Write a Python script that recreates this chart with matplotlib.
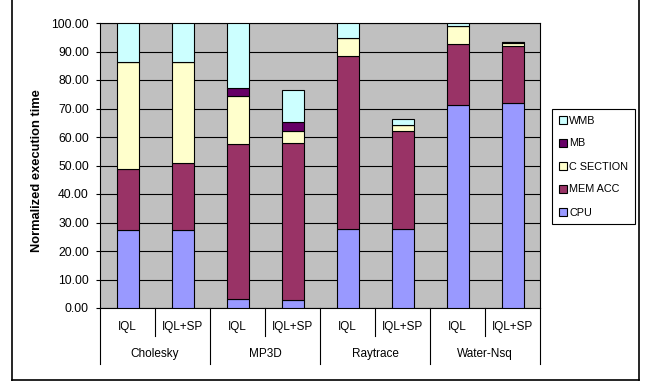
import numpy as np
import matplotlib.pyplot as plt
from matplotlib.patches import Patch

plt.rcParams['font.family'] = ['Liberation Sans', 'DejaVu Sans']

benchmarks = ['Cholesky', 'MP3D', 'Raytrace', 'Water-Nsq']
configs = ['IQL', 'IQL+SP']

# stacked segments, one value per bar (benchmark x config)
cpu = [27.3, 27.3, 3.2, 2.8, 27.7, 27.7, 71.2, 71.8]
mem_acc = [21.5, 23.5, 54.3, 55.0, 60.7, 34.3, 21.4, 20.0]
c_section = [37.5, 35.4, 17.0, 4.4, 6.2, 2.3, 6.3, 1.1]
mb = [0.0, 0.0, 2.6, 2.9, 0.0, 0.0, 0.1, 0.3]
wmb = [13.7, 13.8, 22.9, 11.3, 5.4, 2.1, 1.0, 0.2]

series = [('CPU', cpu, '#9999FF'),
          ('MEM ACC', mem_acc, '#993366'),
          ('C SECTION', c_section, '#FFFFCC'),
          ('MB', mb, '#660066'),
          ('WMB', wmb, '#CCFFFF')]

W, H = 648, 381
fig = plt.figure(figsize=(W / 100, H / 100), dpi=100)
ax = fig.add_axes([100 / W, (H - 308) / H, 440 / W, 285 / H])
ax.set_facecolor('#C0C0C0')

n = len(cpu)
x = np.arange(n) + 0.5
bottom = np.zeros(n)
for name, vals, col in series:
    ax.bar(x, vals, 0.4, bottom=bottom, color=col, edgecolor='black',
           linewidth=0.8, zorder=3)
    bottom += np.array(vals)

ax.set_xlim(0, n)
ax.set_ylim(0, 100)
ax.set_yticks(np.arange(0, 101, 10))
ax.set_yticklabels(['%.2f' % v for v in np.arange(0, 101, 10)], fontsize=8.7)
ax.yaxis.grid(True, color='black', linewidth=0.8, zorder=1)
ax.tick_params(axis='y', length=3, width=0.8, pad=5)
ax.set_xticks([])
for s in ax.spines.values():
    s.set_linewidth(0.8)
    s.set_color('black')
ax.set_ylabel('Normalized execution time', fontsize=9.3, fontweight='bold')
ax.yaxis.set_label_coords(-0.13, 0.482)

# category table under the x axis
tr = ax.get_xaxis_transform()
lo1, lo2 = -28 / 285, -56 / 285
for i in range(n + 1):
    yb = lo2 if i % 2 == 0 else lo1
    ax.plot([i, i], [0, yb], color='black', lw=0.8, transform=tr, clip_on=False)
for i in range(n):
    ax.text(i + 0.5, -19 / 285, configs[i % 2], transform=tr, ha='center',
            va='center', fontsize=8.5)
for g, b in enumerate(benchmarks):
    ax.text(2 * g + 1, -46 / 285, b, transform=tr, ha='center', va='center',
            fontsize=8.5)

handles = [Patch(facecolor=c, edgecolor='black', linewidth=0.8, label=nm)
           for nm, _, c in series][::-1]
leg = fig.legend(handles=handles, loc='upper left',
                 bbox_to_anchor=(552 / W, 1 - 109 / H), fontsize=7.8,
                 frameon=True, fancybox=False, shadow=False, edgecolor='black',
                 framealpha=1, borderpad=0.6, labelspacing=1.2,
                 handlelength=0.75, handleheight=0.75, handletextpad=0.25,
                 borderaxespad=0)
leg.get_frame().set_linewidth(0.8)

# outer chart border
fig.add_artist(plt.Line2D([12 / W, 12 / W], [0, 1], color='black', lw=1.2,
                          transform=fig.transFigure))
fig.add_artist(plt.Line2D([12 / W, 639 / W], [1.5 / H, 1.5 / H], color='black',
                          lw=1.2, transform=fig.transFigure))
fig.add_artist(plt.Line2D([639 / W, 639 / W], [1.5 / H, 1], color='black',
                          lw=1.2, transform=fig.transFigure))

fig.savefig('out.png', dpi=100)
